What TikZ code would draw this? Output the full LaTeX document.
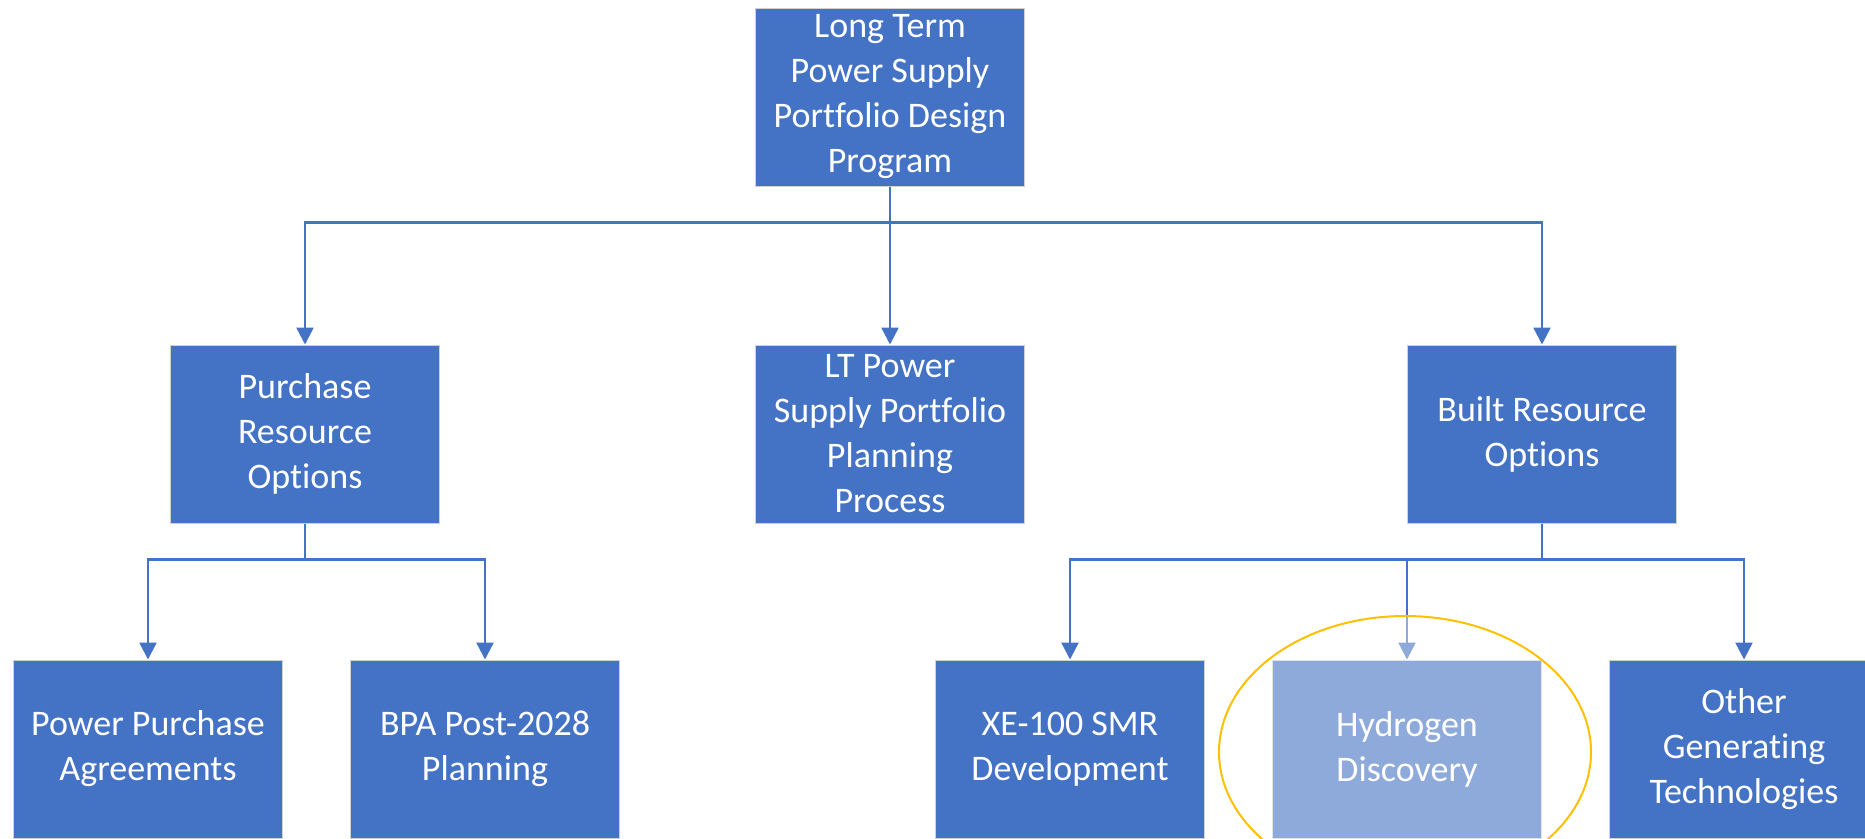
\documentclass[tikz,border=0pt]{standalone}
\usepackage{fontspec}
\setmainfont{Carlito}[Ligatures=NoCommon]
\usetikzlibrary{arrows.meta}
\definecolor{boxblue}{HTML}{4472C4}
\definecolor{ringgold}{HTML}{FFC000}

\begin{document}
\begin{tikzpicture}
  [x=1pt,y=-1pt,
   every node/.style={rectangle,fill=boxblue,draw=black!18,line width=1pt,text=white,
     minimum width=269pt,minimum height=178pt,align=center,
     font=\fontsize{36}{45}\selectfont},
   link/.style={draw=boxblue,line width=2.5pt,-{Triangle[length=17pt,width=17pt]}}]
  \clip (0,0) rectangle (1865,838);
  \node (top) at (890,97) {Long Term\\Power Supply\\Portfolio Design\\Program};
  \node (purch) at (305,434) {Purchase\\Resource\\Options};
  \node (lt) at (890,434) {LT Power\\Supply Portfolio\\Planning\\Process};
  \node (built) at (1542,434) {Built Resource\\Options};
  \node (ppa) at (148,749) {Power Purchase\\Agreements};
  \node (bpa) at (485,749) {BPA Post-2028\\Planning};
  \node (xe) at (1070,749) {XE-100 SMR\\Development};
  \node (hyd) at (1407,749) {Hydrogen\\Discovery};
  \node (oth) at (1744,749) {Other\\Generating\\Technologies};

  \foreach \from/\to in {top/purch,top/lt,top/built,purch/ppa,purch/bpa,built/xe,built/hyd,built/oth}
    \draw[link] (\from.south) -- ++(0,36) -| (\to);

  \draw[ringgold,line width=2pt,fill=white,fill opacity=0.4] (1405,752) ellipse [x radius=186,y radius=136];

\end{tikzpicture}
\end{document}
